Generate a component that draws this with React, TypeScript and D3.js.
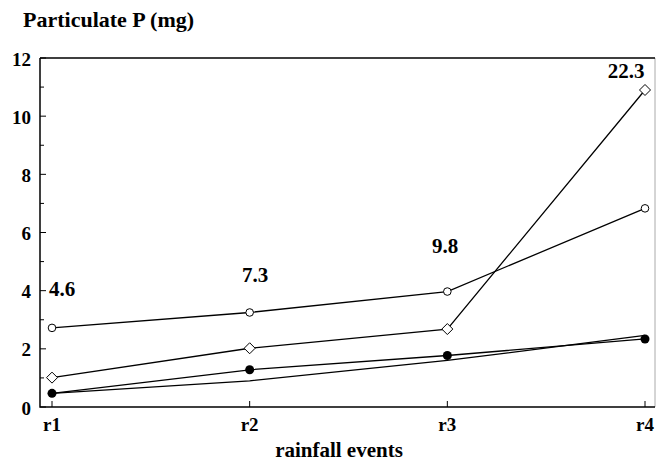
import React, { useEffect, useRef } from "react";
import * as d3 from "d3";

const events = ["r1", "r2", "r3", "r4"];
const openCircle = [2.72, 3.25, 3.97, 6.83];
const diamond = [1.01, 2.02, 2.68, 10.9];
const filledCircle = [0.47, 1.28, 1.77, 2.34];
const plainLine = [0.47, 0.9, 1.6, 2.46];
const totals = ["4.6", "7.3", "9.8", "22.3"];
const totalLabelValue = [3.8, 4.3, 5.3, 11.3];
const yTicks = [0, 2, 4, 6, 8, 10, 12];

const App = () => {
  const ref = useRef<SVGSVGElement>(null);

  useEffect(() => {
    const svg = d3.select(ref.current);
    svg.selectAll("*").remove();
    const width = 656;
    const height = 463;
    const left = 40;
    const right = 655;
    const top = 58;
    const bottom = 407;
    const font = "Liberation Serif";

    const x = d3.scalePoint().domain(events).range([52, 645]);
    const y = d3.scaleLinear().domain([0, 12]).range([bottom, top]);

    svg.attr("width", width).attr("height", height);

    // frame: faint right edge, dark left / top / bottom
    svg
      .append("line")
      .attr("x1", right)
      .attr("x2", right)
      .attr("y1", top)
      .attr("y2", bottom)
      .attr("stroke", "#aaa");
    svg
      .append("path")
      .attr("d", `M${left},${top}V${bottom}H${right}M${left},${top}H${right}`)
      .attr("fill", "none")
      .attr("stroke", "#000")
      .attr("stroke-width", 1.5);

    // y ticks (inward), minor on odd values
    svg
      .append("g")
      .selectAll("line")
      .data(d3.range(0, 13, 1))
      .join("line")
      .attr("x1", left)
      .attr("x2", (d) => (d % 2 === 0 ? left + 6 : left + 4))
      .attr("y1", (d) => y(d))
      .attr("y2", (d) => y(d))
      .attr("stroke", "#000");

    svg
      .append("g")
      .selectAll("text")
      .data(yTicks)
      .join("text")
      .attr("x", 31)
      .attr("y", (d) => y(d) + 1)
      .attr("dy", "0.35em")
      .attr("text-anchor", "end")
      .attr("font-family", font)
      .attr("font-weight", "bold")
      .attr("font-size", 19)
      .text((d) => d);

    // x ticks (inward)
    svg
      .append("g")
      .selectAll("line")
      .data(events)
      .join("line")
      .attr("x1", (d) => x(d)!)
      .attr("x2", (d) => x(d)!)
      .attr("y1", bottom)
      .attr("y2", bottom - 6)
      .attr("stroke", "#000");

    svg
      .append("g")
      .selectAll("text")
      .data(events)
      .join("text")
      .attr("x", (d) => x(d)!)
      .attr("y", 431)
      .attr("text-anchor", "middle")
      .attr("font-family", font)
      .attr("font-weight", "bold")
      .attr("font-size", 19)
      .text((d) => d);

    svg
      .append("text")
      .attr("x", 339)
      .attr("y", 457)
      .attr("text-anchor", "middle")
      .attr("font-family", font)
      .attr("font-weight", "bold")
      .attr("font-size", 21)
      .text("rainfall events");

    svg
      .append("text")
      .attr("x", 23)
      .attr("y", 27)
      .attr("font-family", font)
      .attr("font-weight", "bold")
      .attr("font-size", 22)
      .text("Particulate P (mg)");

    const line = d3
      .line<number>()
      .x((_, i) => x(events[i])!)
      .y((d) => y(d));

    [openCircle, diamond, filledCircle, plainLine].forEach((s) => {
      svg
        .append("path")
        .attr("d", line(s))
        .attr("fill", "none")
        .attr("stroke", "#000")
        .attr("stroke-width", 1.3);
    });

    svg
      .append("g")
      .selectAll("circle")
      .data(openCircle)
      .join("circle")
      .attr("cx", (_, i) => x(events[i])!)
      .attr("cy", (d) => y(d))
      .attr("r", 3.8)
      .attr("fill", "#fff")
      .attr("stroke", "#000")
      .attr("stroke-width", 1);

    svg
      .append("g")
      .selectAll("path")
      .data(diamond)
      .join("path")
      .attr("transform", (d, i) => `translate(${x(events[i])},${y(d)})`)
      .attr("d", "M0,-5.5L5.5,0L0,5.5L-5.5,0Z")
      .attr("fill", "#fff")
      .attr("stroke", "#000")
      .attr("stroke-width", 1);

    svg
      .append("g")
      .selectAll("circle")
      .data(filledCircle)
      .join("circle")
      .attr("cx", (_, i) => x(events[i])!)
      .attr("cy", (d) => y(d))
      .attr("r", 4.5)
      .attr("fill", "#000");

    const labelX = [62, 255, 445, 626];
    svg
      .append("g")
      .selectAll("text")
      .data(totals)
      .join("text")
      .attr("x", (_, i) => labelX[i])
      .attr("y", (_, i) => y(totalLabelValue[i]))
      .attr("text-anchor", "middle")
      .attr("font-family", font)
      .attr("font-weight", "bold")
      .attr("font-size", 21)
      .text((d) => d);
  }, []);

  return (
    <svg
      ref={ref}
      style={{ position: "absolute", left: 0, top: 0, background: "#fff" }}
    />
  );
};

export default App;
